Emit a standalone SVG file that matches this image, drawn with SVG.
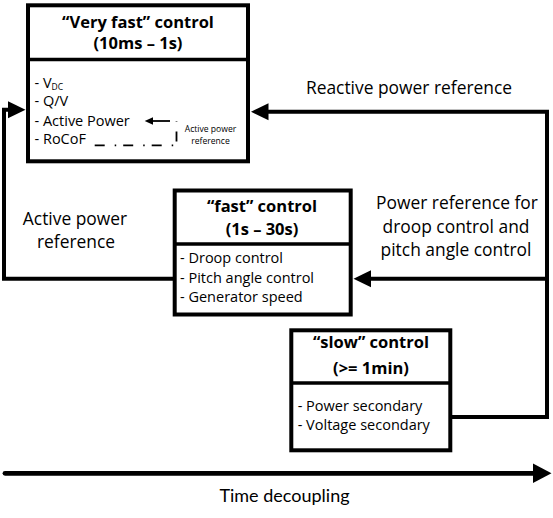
<svg xmlns="http://www.w3.org/2000/svg" width="553" height="518" viewBox="0 0 553 518">
<defs>
<style>
.box{fill:#fff;stroke:#000;stroke-width:4}
.div{stroke:#000;stroke-width:3.5}
.t{font-family:"Open Sans","Liberation Sans",sans-serif;font-weight:bold;font-size:16.5px;text-anchor:middle;fill:#000}
.b{font-family:"Open Sans","Liberation Sans",sans-serif;font-size:14.5px;fill:#000}
.l{font-family:"Open Sans","Liberation Sans",sans-serif;font-size:17.4px;text-anchor:middle;fill:#000}
.s{font-family:"Open Sans","Liberation Sans",sans-serif;font-size:8.6px;text-anchor:middle;fill:#000}
.c{fill:none;stroke:#000;stroke-width:4;stroke-linejoin:miter}
</style>
<marker id="ah" markerUnits="userSpaceOnUse" markerWidth="18" markerHeight="18" viewBox="0 0 18 18" refX="1" refY="9" orient="auto">
<polygon points="0,0.5 17.5,9 0,17.5" fill="#000"/>
</marker>
<marker id="ahT" markerUnits="userSpaceOnUse" markerWidth="19" markerHeight="20" viewBox="0 0 19 20" refX="1" refY="10" orient="auto">
<polygon points="0,0.3 18.5,10 0,19.7" fill="#000"/>
</marker>
</defs>
<rect width="553" height="518" fill="#fff"/>

<g id="connectors">
<path class="c" d="M450,417 H547 V111.7 H267.5" marker-end="url(#ah)"/>
<path class="c" d="M547,278.8 H370" marker-end="url(#ah)"/>
<path class="c" d="M173,278.7 H4 V109.7 H9" marker-end="url(#ah)"/>
</g>

<g id="very-fast">
<rect class="box" x="28" y="5.3" width="220" height="156"/>
<line class="div" x1="28" y1="59.5" x2="248" y2="59.5"/>
<text class="t" x="138" y="27.7">“Very fast” control</text>
<text class="t" x="138" y="49.3">(10ms – 1s)</text>
<text class="b" x="34.5" y="87.5">- V<tspan font-size="8.5" dy="2">DC</tspan></text>
<text class="b" x="34.5" y="106">- Q/V</text>
<text class="b" x="34.5" y="125.5">- Active Power</text>
<text class="b" x="34.5" y="144">- RoCoF</text>
<path d="M94.7,145.3 H176.5 V121" fill="none" stroke="#000" stroke-width="1.8" stroke-dasharray="10 10 1.5 7"/>
<line x1="170" y1="121" x2="152" y2="121" stroke="#000" stroke-width="1.8"/>
<polygon points="144.7,121 153,117.2 153,124.8" fill="#000"/>
<text class="s" x="210.5" y="131.5">Active power</text>
<text class="s" x="210.5" y="143.5">reference</text>
</g>

<g id="fast">
<rect class="box" x="174.7" y="190.5" width="176" height="124"/>
<line class="div" x1="174.7" y1="244" x2="350.7" y2="244"/>
<text class="t" x="262" y="211.7">“fast” control</text>
<text class="t" x="262" y="235">(1s – 30s)</text>
<text class="b" x="180" y="263.3">- Droop control</text>
<text class="b" x="180" y="282.5">- Pitch angle control</text>
<text class="b" x="180" y="301.7">- Generator speed</text>
</g>

<g id="slow">
<rect class="box" x="291.3" y="330.3" width="159" height="120"/>
<line class="div" x1="291.3" y1="383" x2="450.3" y2="383"/>
<text class="t" x="371" y="348.3">“slow” control</text>
<text class="t" x="371" y="374.3">(&gt;= 1min)</text>
<text class="b" x="297.7" y="410.7">- Power secondary</text>
<text class="b" x="297.7" y="430">- Voltage secondary</text>
</g>

<g id="labels">
<text class="l" x="409" y="94.3">Reactive power reference</text>
<text class="l" x="457" y="209.3">Power reference for</text>
<text class="l" x="456" y="232.8">droop control and</text>
<text class="l" x="456" y="256.2">pitch angle control</text>
<text class="l" x="75" y="225">Active power</text>
<text class="l" x="76" y="248">reference</text>
</g>

<g id="time-axis">
<line x1="5" y1="473.3" x2="534" y2="473.3" stroke="#000" stroke-width="4.8" stroke-linecap="round" marker-end="url(#ahT)"/>
<text x="284.5" y="501.7" font-family="Lato,'Open Sans',sans-serif" font-size="18px" text-anchor="middle" fill="#000">Time decoupling</text>
</g>
</svg>
